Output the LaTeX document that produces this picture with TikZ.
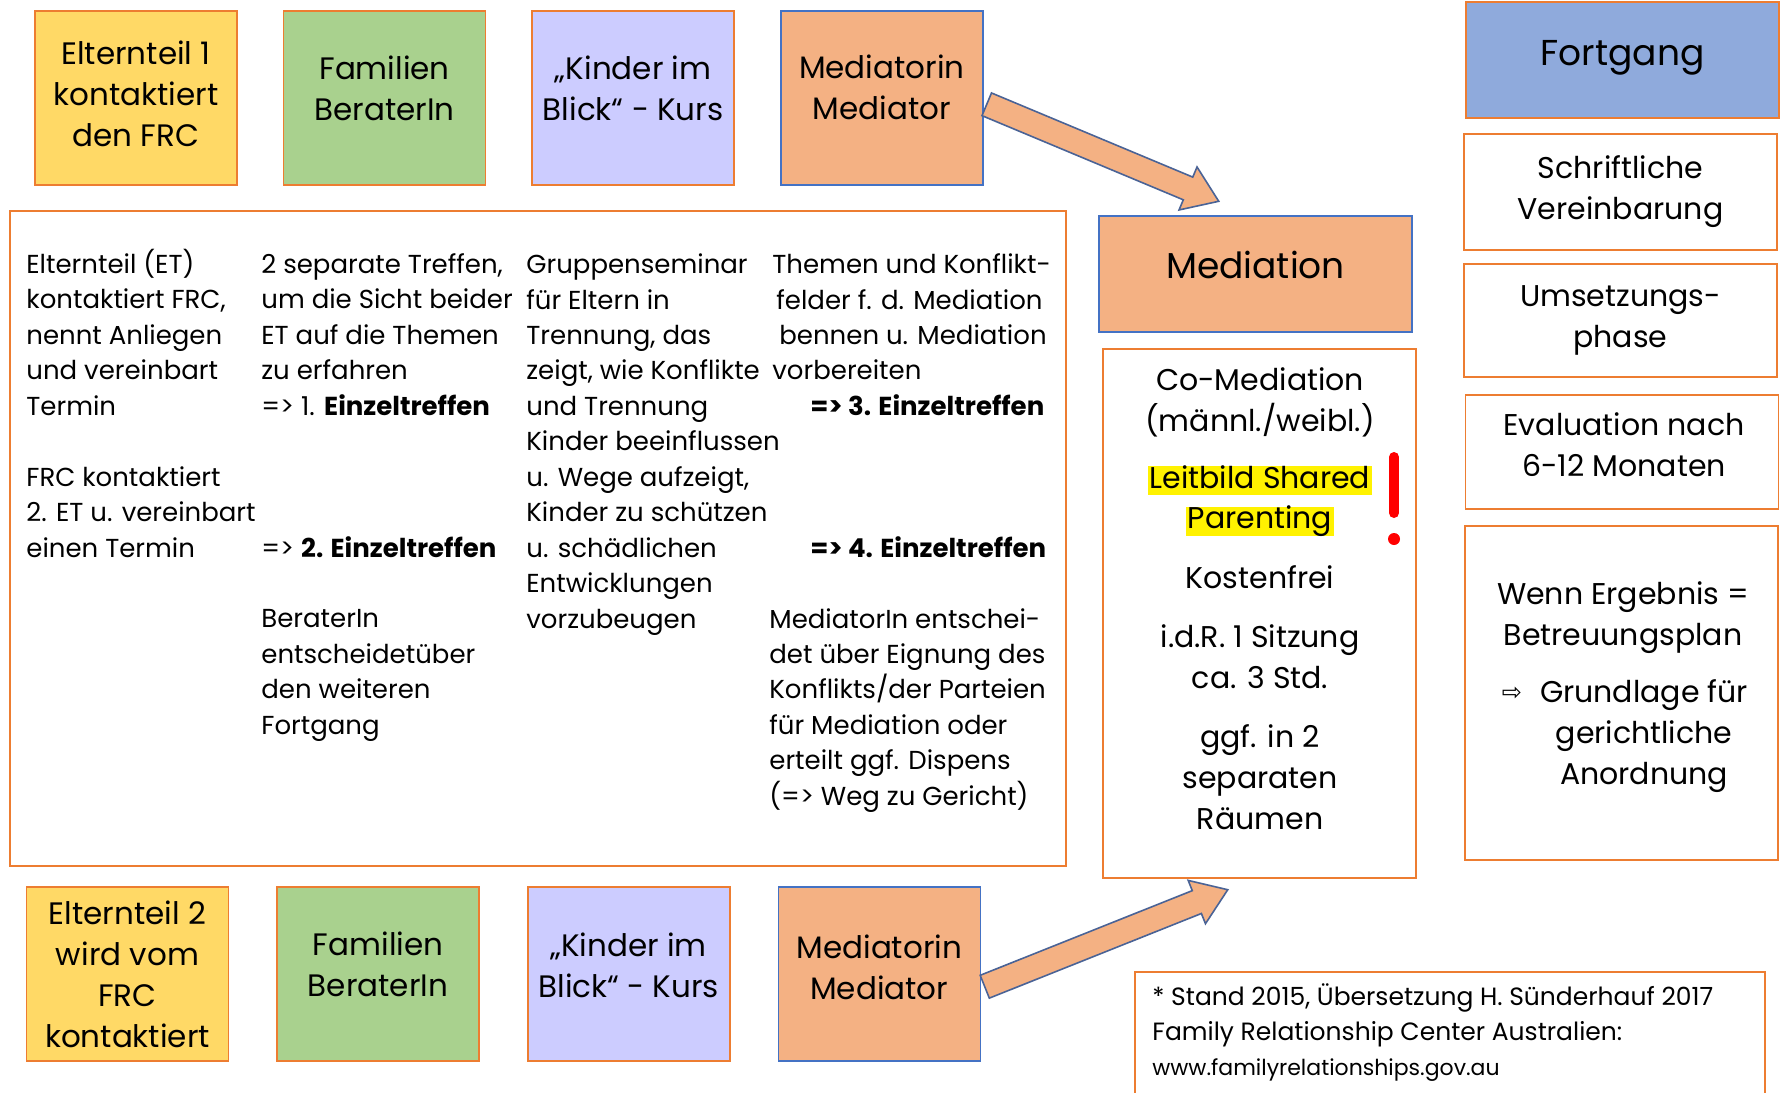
\documentclass[tikz,border=0pt]{standalone}
\usepackage{fontspec}
\setmainfont{Poppins}
\newfontfamily\symfont{DejaVu Sans}
\usetikzlibrary{positioning,shapes.arrows,calc}

\definecolor{eltern}{HTML}{FFD966}
\definecolor{berater}{HTML}{A9D18E}
\definecolor{kurs}{HTML}{CCCCFF}
\definecolor{mediator}{HTML}{F4B183}
\definecolor{fortgang}{HTML}{8FAADC}
\definecolor{frcline}{HTML}{ED7D31}
\definecolor{medline}{HTML}{4472C4}
\definecolor{arrline}{HTML}{4A6396}

\tikzset{
  box/.style={draw=frcline, line width=0.8pt, inner sep=0pt},
  topbox/.style={box, minimum width=101pt, minimum height=87pt},
  toptext/.style={inner sep=0pt, align=center, font={\fontsize{15.5}{20.5}\selectfont}},
  sidebox/.style={box, minimum width=156.5pt, align=center,
    font={\fontsize{15}{20.5}\selectfont}},
  plaintext/.style={inner sep=0pt, align=center, font={\fontsize{15}{20.5}\selectfont}},
  bodytext/.style={anchor=base west, inner sep=0pt, align=left,
    font={\fontsize{13}{17.72}\selectfont}},
  marker/.style={fill=yellow, inner xsep=1pt, inner ysep=0pt, text height=11pt, text depth=3.5pt},
  blockarrow/.style={single arrow, draw=arrline, fill=mediator, line width=0.8pt,
    inner xsep=0pt, inner ysep=5.75pt, minimum width=0pt,
    single arrow head extend=5.5pt, single arrow tip angle=70, anchor=tail}
}

\begin{document}
\begin{tikzpicture}[x=0.5pt,y=-0.5pt]
\useasboundingbox (0,0) rectangle (1781,1092);

% Elternteil 1
\node[topbox, fill=eltern] (e1) at (136,98) {};
\node[topbox, fill=berater, right=22.5pt of e1] (b1) {};
\node[topbox, fill=kurs, right=22.5pt of b1] (k1) {};
\node[topbox, fill=mediator, draw=medline, right=22.5pt of k1] (m1) {};
\node[toptext] (e1t) at ([yshift=2.25pt]e1.center) {Elternteil 1\\kontaktiert\\den FRC};
\node[toptext] (b1t) at ([yshift=5pt]b1.center) {Familien\\BeraterIn};
\node[toptext] (k1t) at ([yshift=5pt]k1.center) {„Kinder im\\Blick“ - Kurs};
\node[toptext] (m1t) at ([yshift=5.5pt]m1.center) {Mediatorin\\Mediator};

% Elternteil 2
\node[topbox, fill=eltern] (e2) at (127.5,974) {};
\node[topbox, fill=berater, right=23.5pt of e2] (b2) {};
\node[topbox, fill=kurs, right=23.5pt of b2] (k2) {};
\node[topbox, fill=mediator, draw=medline, right=23.5pt of k2] (m2) {};
\node[toptext] (e2t) at (e2.center) {Elternteil 2\\wird vom\\FRC\\kontaktiert};
\node[toptext] (b2t) at ([yshift=5pt]b2.center) {Familien\\BeraterIn};
\node[toptext] (k2t) at ([yshift=4.5pt]k2.center) {„Kinder im\\Blick“ - Kurs};
\node[toptext] (m2t) at ([yshift=3.5pt]m2.center) {Mediatorin\\Mediator};

% Ablauf (Anker = Grundlinie der letzten Zeile)
\node[box, minimum width=528pt, minimum height=327.5pt, anchor=north west] (ablauf) at (9,210) {};
\node[bodytext] (et1) at (26,415.3) {Elternteil (ET)\\kontaktiert FRC,\\nennt Anliegen\\und vereinbart\\Termin};
\node[bodytext] (et2) at (26,557.1) {FRC kontaktiert\\2. ET u. vereinbart\\einen Termin};
\node[bodytext] (treffen) at (261,415.3) {2 separate Treffen,\\um die Sicht beider\\ET auf die Themen\\zu erfahren\\=> 1. \textbf{Einzeltreffen}};
\node[bodytext] (einzel2) at (261,557.1) {=> \textbf{2. Einzeltreffen}};
\node[bodytext] (entscheid) at (261,734.3) {BeraterIn\\entscheidetüber\\den weiteren\\Fortgang};
\node[bodytext] (seminar) at (526,628) {Gruppenseminar\\für Eltern in\\Trennung, das\\zeigt, wie Konflikte\\und Trennung\\Kinder beeinflussen\\u. Wege aufzeigt,\\Kinder zu schützen\\u. schädlichen\\Entwicklungen\\vorzubeugen};
\node[bodytext] (themen) at (772,379.9) {Themen und Konflikt-\\\hspace{2pt}felder f. d. Mediation\\\hspace{3.5pt}bennen u. Mediation\\vorbereiten};
\node[bodytext] (einzel3) at (810,415.3) {\textbf{=> 3. Einzeltreffen}};
\node[bodytext] (einzel4) at (810,557.1) {\textbf{=> 4. Einzeltreffen}};
\node[bodytext] (eignung) at (769,805.2) {MediatorIn entschei-\\det über Eignung des\\Konflikts/der Parteien\\für Mediation oder\\erteilt ggf. Dispens\\(=> Weg zu Gericht)};

% Mediation
\node[box, fill=mediator, draw=medline, minimum width=156.5pt, minimum height=58pt] (mediation) at (1255.5,274) {};
\node[plaintext, font={\fontsize{18}{22}\selectfont}] (mediationt) at ([yshift=4.5pt]mediation.center) {Mediation};
\node[box, minimum width=156.5pt, minimum height=264.5pt] (comed) at (1259.5,613.5) {};
\node[plaintext] (comedi) at (1260,402) {Co-Mediation\\(männl./weibl.)};
\node[plaintext, marker] (leitbild) at (1260,480.5) {Leitbild Shared};
\node[plaintext, marker] (parenting) at (1260,521) {Parenting};
\node[plaintext] (kosten) at (1260,577) {Kostenfrei};
\node[plaintext] (sitzung) at (1260,657) {i.d.R. 1 Sitzung\\ca. 3 Std.};
\node[plaintext] (raeume) at (1260,777) {ggf. in 2\\separaten\\Räumen};
\draw[red, line width=5pt, line cap=round] (1394,457) -- (1394,513);
\fill[red] (1394,539) circle (3pt);

% Fortgang
\node[sidebox, fill=fortgang, minimum height=58pt] (fortgang) at (1622.5,60) {};
\node[plaintext, font={\fontsize{18}{22}\selectfont}] (fortgangt) at ([yshift=1pt]fortgang.center) {Fortgang};
\node[sidebox, minimum height=58pt] (schrift) at (1620.5,192) {Schriftliche\\Vereinbarung};
\node[sidebox, minimum height=56.5pt] (umsetz) at (1620.5,320.5) {Umsetzungs-\\phase};
\node[sidebox, minimum height=57pt] (eval) at (1622,452) {};
\node[plaintext] (evaltext) at (1624,445) {Evaluation nach\\6-12 Monaten};
\node[sidebox, minimum height=167pt] (wenn) at (1621.5,693) {};
\node[plaintext] (ergebnis) at (1623,617.5) {Wenn Ergebnis =\\Betreuungsplan};
\node[plaintext] (grundlage) at (1644,736) {Grundlage für\\gerichtliche\\Anordnung};
\node[plaintext, font={\symfont\fontsize{12}{14}\selectfont}] (pfeil) at (1512,694) {⇨};

% Quelle
\node[box, minimum width=315pt, minimum height=70pt, anchor=north west] (quelle) at (1134,971) {};
\node[bodytext, font={\fontsize{12.5}{17.5}\selectfont}] (quelltext) at (1152,1075)
  {* Stand 2015, Übersetzung H. Sünderhauf 2017\\Family Relationship Center Australien:\\{\fontsize{11}{17.5}\selectfont www.familyrelationships.gov.au}};

% Pfeile zur Mediation
\coordinate (tailA) at (986,104);
\coordinate (tipA) at (1218,201);
\coordinate (tailB) at (984,987);
\coordinate (tipB) at (1227,890);
\foreach \src/\dst/\arr in {tailA/tipA/arrA, tailB/tipB/arrB}
  \path let \p1=(\src), \p2=(\dst), \n1={atan2(\y2-\y1,\x2-\x1)}, \n2={veclen(\x2-\x1,\y2-\y1)} in
    node[blockarrow, minimum height=\n2, rotate=\n1] (\arr) at (\src) {};
\end{tikzpicture}
\end{document}
